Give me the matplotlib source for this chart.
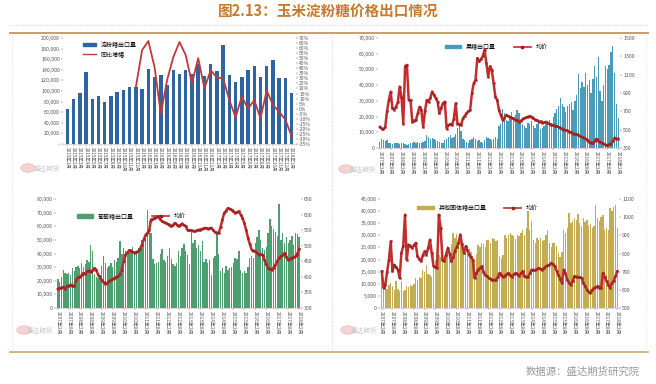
import numpy as np
import matplotlib
matplotlib.use("Agg")
import matplotlib.pyplot as plt
from matplotlib.lines import Line2D
from matplotlib.patches import Circle
from matplotlib.ticker import FuncFormatter

plt.rcParams['font.family'] = ['Noto Sans CJK SC', 'DejaVu Sans']

nan = float('nan')

# ---------------- Chart 1: 淀粉糖出口量 / 同比增幅 ----------------
c1_labels = ["2015年1月", "2015年2月", "2015年3月", "2015年4月", "2015年5月", "2015年6月",
             "2015年7月", "2015年8月", "2015年9月", "2015年10月", "2015年11月", "2015年12月",
             "2016年1月", "2016年2月", "2016年3月", "2016年4月", "2016年5月", "2016年6月",
             "2016年7月", "2016年8月", "2016年9月", "2016年10月", "2016年11月", "2016年12月",
             "2017年1月", "2017年2月", "2017年3月", "2017年4月", "2017年5月", "2017年6月",
             "2017年7月", "2017年8月", "2017年9月", "2017年10月", "2017年11月", "2017年12月",
             "2018年1月"]
c1_export = [66000, 84000, 96000, 136000, 84000, 91000, 80000, 90000, 98000, 101000, 107000, 107000,
             104000, 142000, 127000, 130000, 112000, 139000, 133000, 140000, 132000, 150000, 128000, 150000,
             137000, 186000, 131000, 117000, 127000, 139000, 147000, 126000, 148000, 159000, 124000, 124000,
             96000]
c1_yoy = [nan, nan, nan, nan, nan, nan, nan, nan, nan, nan, nan, 21.6,
          58, 67, 41, -5, 28, 51, 66, 53, 25, 50, 20, 38,
          31, 30, 8.5, -8.5, 12, 0, 8.5, -9.5, 18, 3.6, -3, -11,
          -27.5]

# ---------------- shared monthly labels for charts 2-4 ----------------
m_labels = ["2007年2月", "2007年8月", "2008年2月", "2008年8月", "2009年2月", "2009年8月",
            "2010年2月", "2010年8月", "2011年2月", "2011年8月", "2012年2月", "2012年8月",
            "2013年2月", "2013年8月", "2014年2月", "2014年8月", "2015年2月", "2015年8月",
            "2016年2月", "2016年8月", "2017年2月", "2017年8月", "2018年2月"]

# ---------------- Chart 2: 果糖出口量 / 均价 ----------------
c2_export = [4000, 5500, 5000, 4500, 5000, 3500, 3000, 2500, 3000, 3500, 3000, 2500,
             3000, 3500, 2500, 2000, 2500, 3000, 3500, 4000, 3500, 4000, 3000, 3500,
             4000, 4500, 8500, 7000, 6000, 6500, 5500, 5000, 4500, 4000, 3500, 3000,
             5000, 6000, 7000, 8000, 6500, 7000, 9000, 13000, 14000, 11000, 6000, 5000,
             4000, 3500, 5000, 6000, 7000, 5500, 4500, 5000, 4000, 3500, 5000, 7000,
             6500, 6000, 5000, 5500, 7000, 6000, 14000, 15000, 25000, 22000, 18000, 17000,
             20000, 23000, 19000, 21000, 24000, 22000, 16000, 15000, 14000, 13000, 16000, 15000,
             17000, 14000, 13000, 15000, 16000, 12000, 13000, 14000, 15000, 17000, 18000, 16000,
             20000, 22000, 25000, 27000, 32000, 28000, 26000, 23000, 27000, 28000, 29000, 24000,
             30000, 34000, 47000, 38000, 42000, 39000, 48000, 40000, 43000, 35000, 44000, 52000,
             45000, 58000, 36000, 30000, 40000, 52000, 50000, 53000, 61000, 65000, 48000, 28000,
             19000]
c2_price = [530, 512, 505, 530, 700, 823, 915, 732, 720, 750, 800, 970,
            860, 567, 1190, 1207, 823, 823, 585, 600, 604, 677, 750, 713,
            530, 700, 823, 805, 850, 915, 880, 842, 805, 677, 740, 787,
            805, 512, 549, 560, 549, 620, 787, 567, 560, 549, 622, 650,
            677, 700, 713, 896, 1006, 1043, 1280, 1244, 1270, 1299, 1372, 1226,
            1079, 1190, 1153, 1006, 860, 823, 713, 659, 604, 630, 659, 650,
            640, 630, 622, 610, 604, 585, 595, 611, 625, 633, 640, 648,
            635, 622, 610, 604, 585, 590, 574, 580, 585, 570, 560, 555,
            549, 545, 538, 530, 520, 510, 501, 494, 490, 476, 470, 457,
            455, 450, 440, 428, 420, 413, 400, 391, 366, 360, 355, 380,
            402, 380, 366, 355, 348, 335, 329, 340, 348, 380, 413, 402,
            402]

# ---------------- Chart 3: 葡萄糖出口量 / 均价 ----------------
c3_export = [21000, 19000, 23000, 28000, 26000, 25000, 25500, 24000, 29000, 27000, 30000, 31000,
             29000, 33000, 30000, 32000, 35500, 34000, 46000, 41600, 25000, 23000, 22000, 24000,
             31000, 38000, 33000, 29000, 31000, 33000, 30000, 35000, 34000, 37000, 49000, 40000,
             44000, 42000, 39000, 41000, 43000, 45000, 40000, 42000, 44000, 45000, 50000, 48000,
             52000, 72000, 63500, 55000, 36000, 32000, 33000, 34000, 40000, 43000, 35000, 34000,
             38000, 44000, 36000, 32000, 31000, 33000, 41600, 38000, 44000, 47000, 42000, 39000,
             32000, 56000, 48000, 50000, 44000, 46000, 41600, 49000, 34000, 36000, 33000, 35000,
             24500, 36700, 38000, 54000, 40000, 27000, 29000, 26000, 31000, 28000, 29000, 30000,
             33000, 37000, 36000, 41600, 28000, 25700, 27000, 26000, 30000, 36700, 38000, 37000,
             47700, 52000, 57000, 50000, 44000, 42800, 45000, 55000, 65000, 60000, 58000, 56000,
             53000, 76000, 50000, 55000, 47700, 52000, 48000, 50000, 53000, 46500, 55000, 54000,
             52000]
c3_price = [361, 365, 364, 368, 362, 370, 372, 375, 371, 370, 391, 398,
            400, 405, 412, 410, 418, 420, 415, 422, 428, 423, 407, 398,
            389, 382, 378, 380, 386, 390, 393, 396, 399, 402, 410, 423,
            450, 471, 478, 485, 482, 480, 477, 480, 482, 490, 503, 520,
            535, 540, 551, 584, 586, 589, 592, 594, 585, 578, 575, 573,
            570, 568, 562, 567, 573, 568, 562, 566, 571, 566, 562, 549,
            550, 549, 548, 546, 549, 551, 552, 554, 556, 557, 555, 556,
            557, 550, 543, 542, 541, 560, 584, 605, 612, 621, 618, 616,
            610, 605, 608, 610, 600, 589, 573, 550, 525, 505, 487, 484,
            482, 476, 471, 472, 471, 455, 440, 428, 425, 423, 430, 439,
            450, 461, 466, 470, 477, 465, 455, 458, 461, 463, 466, 475,
            490]

# ---------------- Chart 4: 其他固体糖出口量 / 均价 ----------------
c4_export = [15000, 10000, 9500, 8000, 9600, 10500, 9000, 7500, 11000, 8000, 7000, 11000,
             6900, 7500, 9000, 8500, 9500, 9000, 10000, 12400, 11500, 13000, 12400, 15800,
             15000, 17900, 14000, 13800, 13000, 22700, 20000, 23500, 22000, 21000, 24000, 22000,
             23000, 25500, 24000, 26500, 31000, 29000, 30500, 27000, 31000, 25500, 24000, 26000,
             25500, 24500, 23000, 21300, 20000, 22500, 26000, 25000, 27000, 26500, 25000, 28000,
             28200, 27000, 29000, 28500, 27500, 28200, 21300, 20500, 22000, 30300, 29000, 30000,
             31000, 30300, 29600, 28500, 30000, 29600, 31000, 32300, 30000, 33000, 40000, 32000,
             35800, 28200, 27000, 29000, 28200, 28900, 27500, 28000, 30000, 32300, 26800, 25000,
             27000, 26800, 25500, 22700, 21000, 23000, 32300, 31000, 33000, 39200, 35000, 36000,
             37000, 36500, 38700, 35000, 34000, 37000, 35500, 36500, 33700, 34500, 33000, 34000,
             42700, 37000, 36000, 37500, 38500, 32300, 33000, 32000, 41300, 40000, 41500, 42700,
             33000]
c4_price = [702, 610, 628, 700, 766, 867, 702, 738, 725, 711, 665, 803,
            839, 1014, 766, 849, 840, 830, 845, 858, 784, 770, 757, 790,
            812, 794, 830, 876, 803, 729, 725, 720, 1014, 940, 766, 757,
            790, 830, 800, 757, 780, 812, 835, 858, 904, 850, 803, 839,
            820, 794, 780, 766, 665, 690, 711, 720, 729, 700, 683, 675,
            665, 660, 652, 655, 656, 670, 693, 680, 671, 678, 685, 693,
            680, 671, 685, 693, 685, 678, 690, 702, 674, 672, 671, 690,
            711, 709, 707, 715, 720, 715, 711, 720, 729, 735, 738, 748,
            740, 729, 705, 683, 660, 638, 711, 690, 656, 640, 628, 650,
            674, 672, 671, 668, 665, 640, 619, 601, 590, 583, 600, 610,
            615, 619, 612, 610, 693, 670, 647, 628, 610, 638, 650, 674,
            702]

W, H = 656, 384
fig = plt.figure(figsize=(W / 100, H / 100), dpi=100)
fig.patch.set_facecolor('white')


def fx(px):
    return px / W


def fy(py):
    return 1 - py / H


def box(l, t, r, b):
    return [fx(l), fy(b), fx(r) - fx(l), fy(t) - fy(b)]


TICK_C = '#555555'
FS = 3.8
LINE_C = '#C22E2E'
MARK_C = '#9E1F1F'


def style_axes(ax, ax2):
    for a in (ax, ax2):
        for s in a.spines.values():
            s.set_visible(False)
        a.tick_params(axis='both', labelsize=FS, colors=TICK_C, length=1.2, width=0.3, pad=1)
    ax.spines['bottom'].set_visible(True)
    ax.spines['bottom'].set_color('#bbbbbb')
    ax.spines['bottom'].set_linewidth(0.4)
    ax.patch.set_alpha(0)


thou = FuncFormatter(lambda v, p: f"{int(v):,}")

# ----- Chart 1 -----
ax1 = fig.add_axes(box(63, 38, 296, 144))
x1 = np.arange(len(c1_export))
ax1.bar(x1, c1_export, width=0.55, color='#2E64A3', zorder=2)
ax1.set_ylim(0, 200000)
ax1.set_yticks(np.arange(0, 200001, 20000))
ax1.yaxis.set_major_formatter(FuncFormatter(lambda v, p: '-' if v == 0 else f"{int(v):,}"))
ax1.set_xlim(-0.7, len(c1_export) - 0.3)
ax1.set_xticks(x1)
ax1.set_xticklabels(c1_labels, rotation=270, fontsize=3.3, va='top', ha='center')
ax1b = ax1.twinx()
ax1b.plot(x1, c1_yoy, color='#C0393B', lw=1.3, zorder=3)
ax1b.set_ylim(-35, 70)
ax1b.set_yticks(np.arange(-35, 71, 5))
ax1b.yaxis.set_major_formatter(FuncFormatter(lambda v, p: f"{int(round(v))}%"))
style_axes(ax1, ax1b)
ax1.tick_params(axis='x', labelsize=3.3)
ax1b.tick_params(axis='y', labelsize=3.5)
h1 = [plt.Rectangle((0, 0), 1, 1, color='#2E64A3'), Line2D([], [], color='#C0393B', lw=1.0)]
ax1.legend(h1, ['淀粉糖出口量', '同比增幅'], loc='upper left', bbox_to_anchor=(0.07, 1.0),
           fontsize=4.3, frameon=False, handlelength=2.2, handleheight=0.5, labelspacing=0.6,
           borderaxespad=0.2)


def monthly_chart(rect, bars, price, bar_color, ymax, ystep, pmin, pmax, pstep, label, legend_pos):
    ax = fig.add_axes(rect)
    x = np.arange(len(bars))
    ax.bar(x, bars, width=0.75, color=bar_color, zorder=2, linewidth=0)
    ax.set_ylim(0, ymax)
    ax.set_yticks(np.arange(0, ymax + 1, ystep))
    ax.yaxis.set_major_formatter(thou)
    ax.set_xlim(-1, len(bars))
    ax.set_xticks(np.arange(0, len(bars), 6))
    ax.set_xticklabels(m_labels, rotation=270, fontsize=3.5, va='top', ha='center')
    axb = ax.twinx()
    axb.plot(x, price, color=LINE_C, lw=1.8, marker='s', ms=1.4, mfc=MARK_C, mec=MARK_C,
             mew=0.2, zorder=3)
    axb.set_ylim(pmin, pmax)
    axb.set_yticks(np.arange(pmin, pmax + 1, pstep))
    style_axes(ax, axb)
    ax.tick_params(axis='x', labelsize=3.5)
    h = [plt.Rectangle((0, 0), 1, 1, color=bar_color),
         Line2D([], [], color=LINE_C, lw=1.2, marker='s', ms=1.5, mfc=MARK_C, mec=MARK_C)]
    ax.legend(h, [label, '均价'], loc='upper left', bbox_to_anchor=legend_pos, ncol=2,
              fontsize=4.3, frameon=False, handlelength=2.8, handleheight=0.5, columnspacing=3.0,
              borderaxespad=0.2)
    return ax, axb


monthly_chart(box(378, 38, 620, 148), c2_export, c2_price, '#4A9CB9', 70000, 10000, 300, 1500, 200,
              '果糖出口量', (0.26, 0.98))
monthly_chart(box(56, 199, 301, 308), c3_export, c3_price, '#4F9E70', 80000, 10000, 300, 650, 50,
              '葡萄糖出口量', (0.07, 0.9))
monthly_chart(box(380, 199, 619, 308), c4_export, c4_price, '#C4AC52', 45000, 5000, 500, 1100, 100,
              '其他固体糖出口量', (0.14, 0.98))

# ----- decorations -----
fig.text(0.5, fy(12), '图2.13：玉米淀粉糖价格出口情况', ha='center', va='center',
         fontsize=10.5, fontweight='bold', color='#C97A2C')
fig.add_artist(Line2D([fx(10), fx(648)], [fy(25), fy(25)], color='#cccccc', lw=0.5, ls=(0, (2, 2))))
fig.add_artist(Line2D([fx(10), fx(648)], [fy(33), fy(33)], color='#C9955A', lw=1.3))
fig.add_artist(Line2D([fx(10), fx(648)], [fy(352), fy(352)], color='#D6AE78', lw=1.3))
fig.add_artist(Line2D([fx(332), fx(332)], [fy(34), fy(350)], color='#cccccc', lw=0.5, ls=(0, (2, 2))))
fig.add_artist(Line2D([fx(12), fx(12)], [fy(34), fy(350)], color='#dddddd', lw=0.5, ls=(0, (2, 2))))
fig.add_artist(Line2D([fx(646), fx(646)], [fy(34), fy(350)], color='#dddddd', lw=0.5, ls=(0, (2, 2))))

# watermarks (logo + text), placed just left of the first tick label
for (lx, ly, right) in [(28, 168, 60), (346, 169, 376), (24, 330, 53), (348, 330, 377)]:
    fig.add_artist(Circle((fx(lx), fy(ly)), 0.011, transform=fig.transFigure,
                          facecolor='#F4C9C9', edgecolor='#E8A0A0', lw=0.4, alpha=0.8))
    fig.text(fx(right), fy(ly), '盛达期货', fontsize=4.8, color='#c8c8c8', va='center', ha='right')

fig.text(fx(640), fy(372), '数据源：盛达期货研究院', ha='right', va='center', fontsize=7.5,
         color='#9a9a9a', style='italic')

fig.savefig('out.png', dpi=100)
